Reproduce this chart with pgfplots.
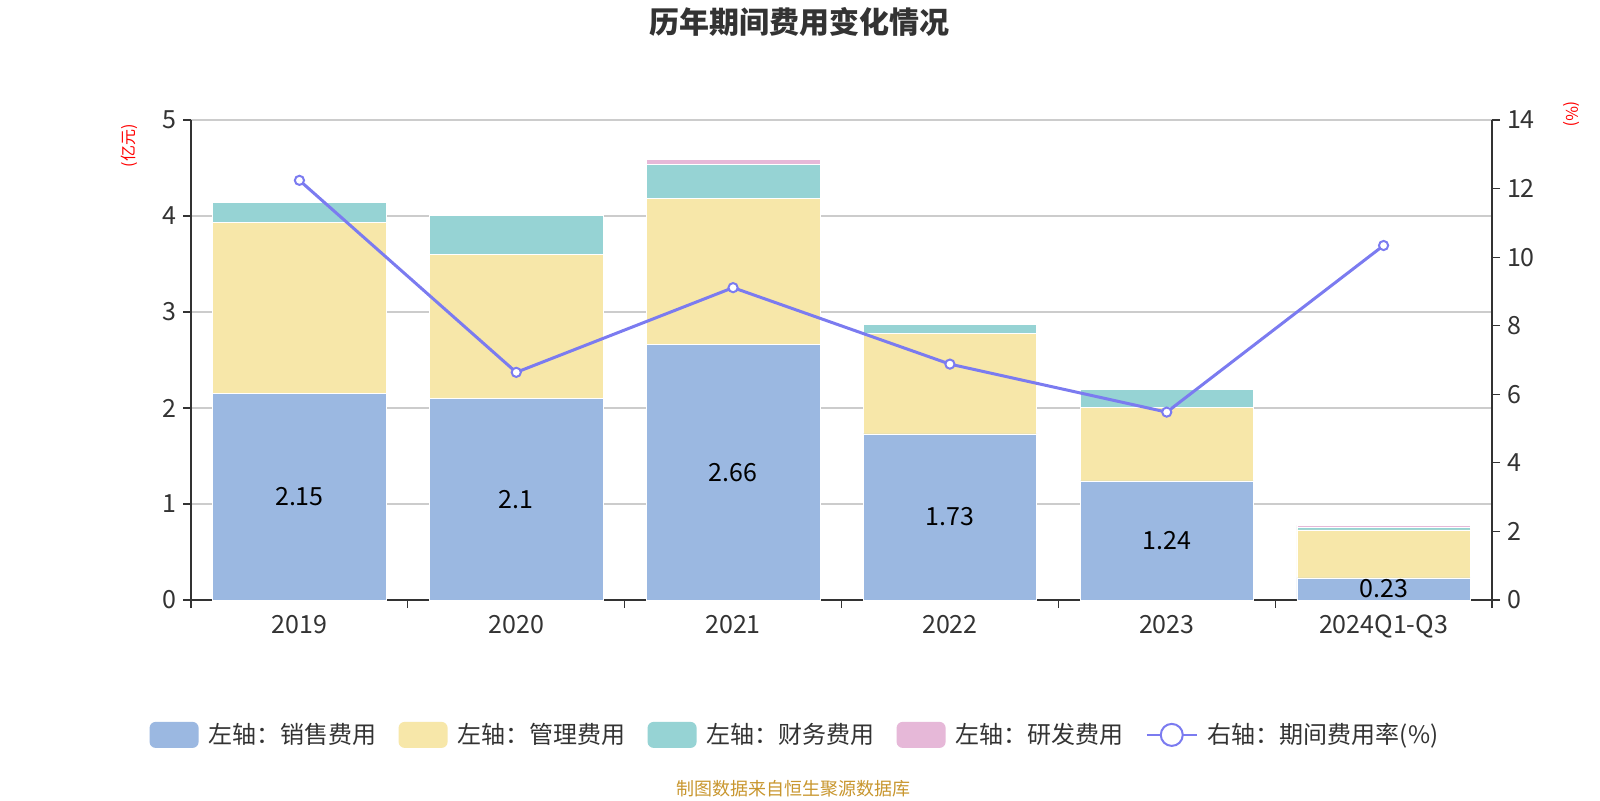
\documentclass[border=0pt]{standalone}
\usepackage{pgfplots}
\pgfplotsset{compat=1.18}
\usepackage{fontspec}
\setmainfont{Noto Sans CJK SC}
\definecolor{cBlue}{HTML}{9BB8E1}
\definecolor{cYel}{HTML}{F7E7A9}
\definecolor{cTeal}{HTML}{96D3D4}
\definecolor{cPink}{HTML}{E6B8D8}
\definecolor{cLine}{HTML}{7B7BF0}
\definecolor{cTxt}{HTML}{333333}
\definecolor{cGrid}{HTML}{CCCCCC}
\definecolor{cSrc}{HTML}{C8962E}
\pgfplotsset{
  base/.style={scale only axis, width=650.5pt, height=240pt, at={(95.5pt,100pt)}, anchor=south west,
    xmin=-0.5, xmax=5.5, /pgf/number format/assume math mode=true,
    font=\fontsize{12.5}{14}\selectfont, tick label style={text=cTxt},
    axis line style={cTxt, line width=0.6pt}, tick align=outside, major tick length=4pt,
    tick style={cTxt, line width=0.6pt}},
  barleg/.style={legend image code/.code={\fill[##1, draw=none, rounded corners=3pt] (0pt,-6.5pt) rectangle (24.5pt,6.5pt);}},
}
\begin{document}
\begin{tikzpicture}
\path[use as bounding box] (0,0) rectangle (800pt,400pt);
\begin{axis}[base, ymin=0, ymax=5, ytick={0,...,5}, ybar stacked, bar width=0.8,
  axis x line*=bottom, axis y line*=left,
  xtick={0,...,5}, xticklabels={2019,2020,2021,2022,2023,2024Q1-Q3},
  major x tick style={draw=none}, minor xtick={-0.5,0.5,...,5.5}, minor tick length=4pt,
  minor x tick style={draw=cTxt, line width=0.6pt},
  ymajorgrids, grid style={cGrid, line width=0.6pt},
  legend columns=5, legend cell align=left,
  legend style={at={(0.4650,-0.281)}, anchor=center, draw=none, font=\fontsize{12}{14}\selectfont,
    /tikz/every odd column/.append style={column sep=3pt},
    /tikz/every even column/.append style={column sep=9pt}, text=cTxt},
  ]
\addplot[fill=cBlue, draw=white, line width=0.3pt, barleg] coordinates {(0,2.15) (1,2.10) (2,2.66) (3,1.73) (4,1.24) (5,0.23)};
\addlegendentry{左轴：销售费用}
\addplot[fill=cYel, draw=white, line width=0.3pt, barleg] coordinates {(0,1.78) (1,1.50) (2,1.52) (3,1.05) (4,0.77) (5,0.50)};
\addlegendentry{左轴：管理费用}
\addplot[fill=cTeal, draw=white, line width=0.3pt, barleg] coordinates {(0,0.21) (1,0.41) (2,0.36) (3,0.09) (4,0.18) (5,0.03)};
\addlegendentry{左轴：财务费用}
\addplot[fill=cPink, draw=white, line width=0.3pt, barleg] coordinates {(0,0.01) (1,0.005) (2,0.05) (3,0.01) (4,0.015) (5,0.02)};
\addlegendentry{左轴：研发费用}
\addlegendimage{legend image code/.code={\draw[cLine, line width=1.2pt] (0pt,0pt) -- (25pt,0pt); \draw[cLine, line width=1pt, fill=white] (12.5pt,0pt) circle (5.5pt);}}
\addlegendentry{右轴：期间费用率(\%)}
\end{axis}
\begin{axis}[base, ymin=0, ymax=14, ytick={0,2,...,14}, axis y line*=right, axis x line=none]
\addplot[cLine, line width=1.5pt, mark=*, mark size=2.3pt, mark options={fill=white, draw=cLine, line width=1pt}]
  coordinates {(0,12.24) (1,6.64) (2,9.11) (3,6.88) (4,5.48) (5,10.34)};
\end{axis}
\begin{axis}[base, hide axis, ymin=0, ymax=5]
\addplot[draw=none, mark=none, nodes near coords, point meta=explicit,
  every node near coord/.append style={anchor=center, text=black, font=\fontsize{12.5}{14}\selectfont}]
  coordinates {(0,1.075) [2.15] (1,1.05) [2.1] (2,1.33) [2.66] (3,0.865) [1.73] (4,0.62) [1.24] (5,0.115) [0.23]};
\end{axis}
\node[font=\fontsize{15}{17}\selectfont\bfseries, text=cTxt] at (399.5pt,388.8pt) {历年期间费用变化情况};
\node[font=\fontsize{8}{9}\selectfont, text=red, rotate=90] at (64.8pt,327pt) {(亿元)};
\node[font=\fontsize{8}{9}\selectfont, text=red, rotate=-90] at (785.7pt,343pt) {(\%)};
\node[font=\fontsize{9}{10}\selectfont, text=cSrc] at (396.5pt,5.5pt) {制图数据来自恒生聚源数据库};
\end{tikzpicture}
\end{document}
